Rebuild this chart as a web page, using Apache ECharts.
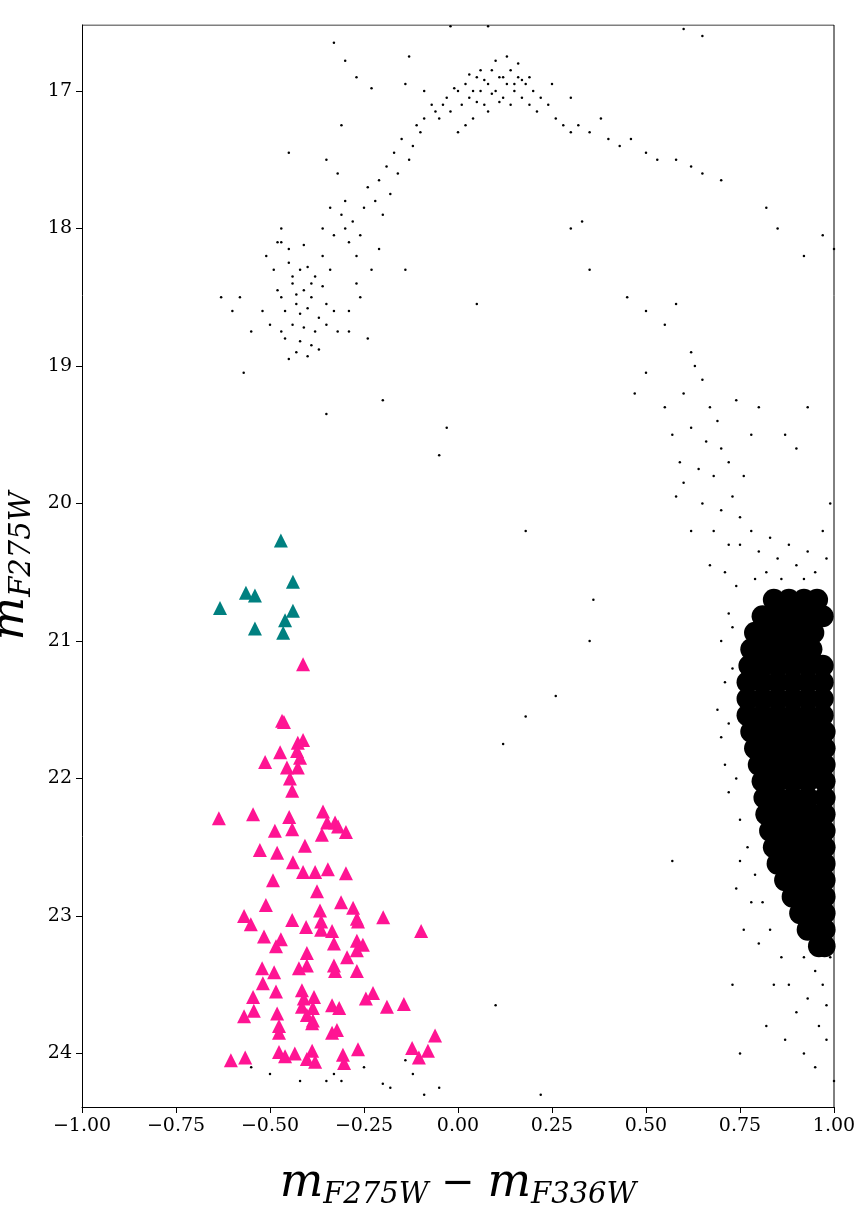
<!DOCTYPE html>
<html>
<head>
<meta charset="utf-8">
<script src="https://cdn.jsdelivr.net/npm/echarts@6/dist/echarts.min.js"></script>
<style>html,body{margin:0;padding:0;background:#fff}#chart{width:858px;height:1210px}</style>
</head>
<body>
<div id="chart"></div>
<script>
// tick labels
const xTicks = [-1, -0.75, -0.5, -0.25, 0, 0.25, 0.5, 0.75, 1];
const yTicks = [17, 18, 19, 20, 21, 22, 23, 24];

// teal triangles
const tealStars = [[-0.471,20.27],[-0.439,20.57],[-0.633,20.76],[-0.564,20.65],[-0.54,20.67],
  [-0.439,20.78],[-0.46,20.85],[-0.54,20.91],[-0.465,20.94]];

// pink triangles
const pinkStars = [[-0.412,21.17],[-0.468,21.58],[-0.463,21.59],[-0.412,21.72],[-0.426,21.74],[-0.473,21.81],
  [-0.428,21.80],[-0.513,21.88],[-0.420,21.85],[-0.455,21.92],[-0.426,21.92],[-0.447,22.0],[-0.441,22.09],
  [-0.636,22.29],[-0.545,22.26],[-0.449,22.28],[-0.359,22.24],[-0.348,22.32],[-0.327,22.32],[-0.319,22.35],
  [-0.298,22.39],[-0.487,22.38],[-0.441,22.37],[-0.362,22.41],[-0.527,22.52],[-0.481,22.54],[-0.407,22.49],
  [-0.439,22.61],[-0.412,22.68],[-0.380,22.68],[-0.346,22.66],[-0.298,22.69],[-0.492,22.74],
  [-0.375,22.82],[-0.511,22.92],[-0.311,22.90],[-0.367,22.96],[-0.279,22.94],[-0.569,23.0],[-0.551,23.06],
  [-0.441,23.03],[-0.404,23.08],[-0.364,23.04],[-0.364,23.10],[-0.335,23.11],[-0.269,23.02],[-0.266,23.04],
  [-0.199,23.01],[-0.098,23.11],[-0.516,23.15],[-0.471,23.17],[-0.484,23.22],[-0.330,23.20],[-0.269,23.18],
  [-0.253,23.21],[-0.269,23.25],[-0.402,23.27],[-0.295,23.30],[-0.521,23.38],[-0.489,23.41],[-0.423,23.38],
  [-0.402,23.36],[-0.330,23.36],[-0.327,23.40],[-0.269,23.40],[-0.519,23.49],[-0.484,23.55],[-0.545,23.59],
  [-0.415,23.54],[-0.383,23.59],[-0.410,23.60],[-0.226,23.56],[-0.245,23.60],[-0.189,23.66],[-0.144,23.64],
  [-0.543,23.69],[-0.569,23.73],[-0.481,23.71],[-0.415,23.66],[-0.386,23.67],[-0.335,23.65],[-0.316,23.67],
  [-0.402,23.72],[-0.386,23.76],[-0.388,23.78],[-0.476,23.80],[-0.476,23.85],[-0.335,23.85],[-0.322,23.83],
  [-0.061,23.87],[-0.122,23.96],[-0.080,23.98],[-0.104,24.03],[-0.604,24.05],[-0.566,24.03],[-0.476,23.99],
  [-0.460,24.02],[-0.434,24.0],[-0.388,23.98],[-0.402,24.04],[-0.380,24.06],[-0.306,24.01],[-0.303,24.07],
  [-0.266,23.97]];

// sparse stars (HB, RGB, field)
const sparseStars = [
  [-0.45,18.25],[-0.42,18.3],[-0.40,18.28],[-0.38,18.35],[-0.44,18.4],[-0.41,18.45],[-0.36,18.42],[-0.47,18.5],
  [-0.43,18.55],[-0.39,18.5],[-0.35,18.55],[-0.46,18.6],[-0.42,18.62],[-0.40,18.58],[-0.37,18.65],[-0.44,18.7],
  [-0.41,18.72],[-0.38,18.75],[-0.35,18.7],[-0.46,18.8],[-0.42,18.82],[-0.39,18.85],[-0.43,18.9],[-0.40,18.93],
  [-0.37,18.88],[-0.48,18.45],[-0.49,18.3],[-0.45,18.15],[-0.41,18.12],[-0.36,18.2],[-0.34,18.3],[-0.33,18.6],
  [-0.32,18.75],[-0.47,18.75],[-0.45,18.95],[-0.50,18.7],[-0.52,18.6],[-0.55,18.75],[-0.58,18.5],[-0.60,18.6],
  [-0.48,18.1],[-0.51,18.2],[-0.47,18.0],[-0.44,18.35],[-0.39,18.4],[-0.43,18.48],
  [-0.33,18.05],[-0.30,18.0],[-0.31,17.9],[-0.28,17.95],[-0.29,18.1],[-0.27,18.2],[-0.25,17.85],[-0.26,18.05],
  [-0.24,17.7],[-0.22,17.8],[-0.23,18.3],[-0.21,17.65],[-0.20,17.9],[-0.19,17.55],[-0.18,17.75],[-0.17,17.45],
  [-0.16,17.6],[-0.15,17.35],[-0.13,17.5],[-0.27,18.4],[-0.29,18.6],[-0.29,18.75],[-0.26,18.5],[-0.32,17.6],
  [-0.35,17.5],[-0.30,17.8],[-0.34,17.85],[-0.36,18.0],[-0.21,18.15],[-0.14,18.3],[-0.12,17.4],[-0.10,17.3],
  [-0.09,17.2],[-0.11,17.25],[-0.06,17.15],[-0.04,17.1],
  [-0.07,17.1],[-0.05,17.2],[-0.03,17.05],[-0.02,17.15],[0.0,17.0],[0.01,17.1],[0.02,16.95],[0.03,17.05],
  [0.04,17.2],[0.05,16.9],[0.06,17.0],[0.07,17.1],[0.08,16.95],[0.09,16.85],[0.10,17.0],[0.11,16.9],
  [0.12,17.05],[0.13,16.95],[0.14,16.85],[0.15,17.0],[0.16,16.9],[0.17,17.05],[0.18,16.95],[0.19,17.1],
  [0.20,17.0],[0.21,17.15],[0.10,16.78],[0.13,16.75],[0.06,16.85],[0.08,17.15],[0.11,17.08],[0.14,17.1],
  [0.16,16.8],[0.04,17.0],[-0.01,16.98],[0.02,17.25],[0.15,16.95],[0.12,16.9],[0.09,17.02],[0.17,16.92],
  [0.05,17.08],[0.0,17.3],[-0.09,17.0],[0.03,16.88],[0.07,16.92],[0.19,16.9],[0.22,17.05],[0.24,17.1],
  [0.26,17.2],[0.28,17.25],[0.30,17.3],[0.32,17.25],[0.35,17.3],[0.38,17.2],[0.40,17.35],[0.43,17.4],
  [0.46,17.35],[0.50,17.45],[0.53,17.5],[0.58,17.5],[0.62,17.55],[0.65,17.6],[0.70,17.65],[0.25,16.95],[0.30,17.05],
  [-0.33,16.65],[-0.30,16.78],[-0.27,16.9],[-0.23,16.98],[-0.14,16.95],[-0.31,17.25],[-0.45,17.45],[-0.47,18.1],
  [0.05,18.55],[0.30,18.0],[0.35,18.3],[0.45,18.5],[0.33,17.95],[0.60,16.55],[0.65,16.6],[-0.63,18.5],
  [-0.57,19.05],[-0.35,19.35],[-0.24,18.8],[-0.2,19.25],[-0.03,19.45],[-0.05,19.65],[0.85,18.0],[0.92,18.2],
  [0.97,18.05],[1.0,18.15],[0.82,17.85],[-0.13,16.75],[-0.02,16.53],[0.08,16.53],
  [0.50,18.6],[0.55,18.7],[0.58,18.55],[0.62,18.9],[0.63,19.0],[0.60,19.2],[0.65,19.1],[0.67,19.3],
  [0.62,19.45],[0.66,19.55],[0.70,19.6],[0.72,19.7],[0.68,19.8],[0.73,19.95],[0.70,20.05],[0.75,20.1],
  [0.69,19.4],[0.55,19.3],[0.57,19.5],[0.59,19.7],[0.60,19.85],[0.64,19.75],[0.74,19.25],[0.78,19.5],
  [0.76,19.8],[0.80,19.3],[0.87,19.5],[0.90,19.6],[0.93,19.3],[0.65,20.0],[0.68,20.2],[0.72,20.3],
  [0.71,20.5],[0.74,20.6],[0.67,20.45],[0.62,20.2],[0.50,19.05],[0.47,19.2],[0.58,19.95],
  [0.75,20.3],[0.78,20.2],[0.80,20.35],[0.83,20.25],[0.85,20.4],[0.88,20.3],[0.90,20.45],[0.93,20.35],
  [0.95,20.5],[0.98,20.4],[0.82,20.5],[0.79,20.55],[0.86,20.55],[0.92,20.55],[0.97,20.2],[0.99,20.0],
  [0.72,20.8],[0.70,21.0],[0.71,21.3],[0.69,21.5],[0.70,21.7],[0.71,21.9],[0.72,22.1],[0.73,20.9],
  [0.73,21.2],[0.72,21.6],[0.74,22.0],[0.75,22.3],[0.77,22.5],[0.79,22.7],[0.81,22.9],[0.83,23.1],
  [0.86,23.3],[0.88,23.5],[0.90,23.7],[0.93,23.6],[0.95,23.4],[0.97,23.5],[0.99,23.3],[0.96,23.8],
  [0.98,23.9],[0.92,24.0],[0.95,24.1],[1.0,24.2],[0.84,23.5],[0.80,23.2],[0.78,22.9],[0.75,22.6],
  [0.57,22.6],[0.75,24.0],[0.73,23.5],[0.82,23.8],[0.87,23.9],[0.92,23.3],[0.98,23.65],[0.76,23.1],[0.74,22.8],
  [0.35,21.0],[0.36,20.7],[0.18,20.2],[0.18,21.55],[0.12,21.75],[0.10,23.65],[0.26,21.4],[-0.35,24.2],
  [-0.33,24.15],[-0.31,24.2],[-0.25,24.1],[-0.2,24.22],[-0.18,24.25],[-0.55,24.1],[-0.50,24.15],[-0.42,24.2],
  [-0.12,24.15],[-0.05,24.25],[0.22,24.3],[-0.09,24.3],[-0.14,24.05]
];

// dense main-sequence core (drawn with large overlapping dots)
const coreStars = [
  [0.84,20.70],[0.88,20.70],[0.92,20.70],[0.955,20.70],
  [0.81,20.82],[0.85,20.82],[0.89,20.82],[0.93,20.82],[0.97,20.82],
  [0.79,20.94],[0.83,20.94],[0.87,20.94],[0.91,20.94],[0.945,20.94],
  [0.78,21.06],[0.82,21.06],[0.86,21.06],[0.90,21.06],[0.94,21.06],
  [0.775,21.18],[0.81,21.18],[0.85,21.18],[0.89,21.18],[0.93,21.18],[0.97,21.18],
  [0.77,21.30],[0.81,21.30],[0.85,21.30],[0.89,21.30],[0.93,21.30],[0.97,21.30],
  [0.77,21.42],[0.81,21.42],[0.85,21.42],[0.89,21.42],[0.93,21.42],[0.97,21.42],
  [0.77,21.54],[0.81,21.54],[0.85,21.54],[0.89,21.54],[0.93,21.54],[0.97,21.54],
  [0.78,21.66],[0.82,21.66],[0.86,21.66],[0.90,21.66],[0.94,21.66],[0.975,21.66],
  [0.79,21.78],[0.83,21.78],[0.87,21.78],[0.91,21.78],[0.95,21.78],[0.975,21.78],
  [0.80,21.90],[0.84,21.90],[0.88,21.90],[0.92,21.90],[0.96,21.90],[0.975,21.90],
  [0.81,22.02],[0.85,22.02],[0.89,22.02],[0.93,22.02],[0.975,22.02],
  [0.815,22.14],[0.85,22.14],[0.89,22.14],[0.93,22.14],[0.975,22.14],
  [0.82,22.26],[0.86,22.26],[0.90,22.26],[0.94,22.26],[0.975,22.26],
  [0.83,22.38],[0.87,22.38],[0.91,22.38],[0.95,22.38],[0.975,22.38],
  [0.84,22.50],[0.88,22.50],[0.92,22.50],[0.96,22.50],[0.975,22.50],
  [0.85,22.62],[0.89,22.62],[0.93,22.62],[0.975,22.62],
  [0.87,22.74],[0.91,22.74],[0.95,22.74],[0.975,22.74],
  [0.89,22.86],[0.93,22.86],[0.975,22.86],
  [0.91,22.98],[0.95,22.98],[0.975,22.98],
  [0.93,23.10],[0.975,23.10],
  [0.96,23.22],[0.975,23.22]
];

const chart = echarts.init(document.getElementById('chart'));
const serif = '"DejaVu Serif", "Liberation Serif", serif';
const fmt = v => (v < 0 ? '\u2212' : '') + Math.abs(v).toFixed(2);

chart.setOption({
  animation: false,
  backgroundColor: '#fff',
  grid: { left: 82, right: 24, top: 25, bottom: 103, containLabel: false, outerBoundsMode: 'none' },
  xAxis: {
    type: 'value', min: -1, max: 1, interval: 0.25,
    splitLine: { show: false },
    axisLine: { onZero: false, lineStyle: { color: '#000' } },
    axisTick: { length: 6, lineStyle: { color: '#000' } },
    axisLabel: { color: '#000', fontFamily: serif, fontSize: 19, margin: 10, formatter: fmt },
    name: '{m|m}{s|F275W}{o| \u2212 }{m|m}{s|F336W}',
    nameLocation: 'middle', nameGap: 52,
    nameTextStyle: {
      rich: {
        m: { fontFamily: serif, fontStyle: 'italic', fontSize: 46, color: '#000' },
        s: { fontFamily: serif, fontStyle: 'italic', fontSize: 29, color: '#000', padding: [22, 0, 0, 0] },
        o: { fontFamily: serif, fontSize: 40, color: '#000' }
      }
    }
  },
  yAxis: {
    type: 'value', min: 16.52, max: 24.39, inverse: true,
    splitLine: { show: false },
    axisLine: { onZero: false, lineStyle: { color: '#000' } },
    axisTick: { length: 6, lineStyle: { color: '#000' }, customValues: yTicks },
    axisLabel: { color: '#000', fontFamily: serif, fontSize: 19, margin: 10, customValues: yTicks },
    name: '{m|m}{s|F275W}',
    nameLocation: 'middle', nameGap: 36, nameRotate: 90,
    nameTextStyle: {
      rich: {
        m: { fontFamily: serif, fontStyle: 'italic', fontSize: 46, color: '#000' },
        s: { fontFamily: serif, fontStyle: 'italic', fontSize: 29, color: '#000', padding: [22, 0, 0, 0] }
      }
    }
  },
  series: [
    { type: 'scatter', data: coreStars, symbolSize: 22, itemStyle: { color: '#000', opacity: 1 }, clip: true, silent: true },
    { type: 'scatter', data: sparseStars, symbolSize: 2.5, itemStyle: { color: '#000', opacity: 1 }, clip: true, silent: true },
    { type: 'scatter', data: pinkStars, symbol: 'triangle', symbolSize: 14, itemStyle: { color: '#ff1493', opacity: 1 }, silent: true },
    { type: 'scatter', data: tealStars, symbol: 'triangle', symbolSize: 14, itemStyle: { color: '#008080', opacity: 1 }, silent: true },
    { type: 'line', data: [[1, 16.52], [1, 24.39]], symbol: 'none', lineStyle: { color: '#000', width: 1 }, silent: true },
    { type: 'line', data: [[-1, 16.52], [1, 16.52]], symbol: 'none', lineStyle: { color: '#000', width: 1 }, silent: true }
  ]
});
</script>
</body>
</html>
